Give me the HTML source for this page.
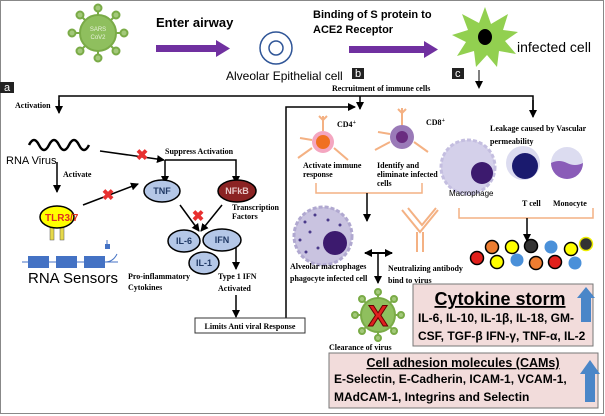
<!DOCTYPE html>
<html><head><meta charset="utf-8"><style>
body{margin:0;background:#fff}
svg{display:block}
.sb{font-family:"Liberation Serif",serif;font-weight:bold;font-size:8px}
.ss{font-family:"Liberation Sans",sans-serif}
</style></head><body>
<svg width="605" height="416" viewBox="0 0 605 416" xmlns="http://www.w3.org/2000/svg">
<defs>
<marker id="ah" markerUnits="userSpaceOnUse" markerWidth="9" markerHeight="9" refX="7" refY="4.5" orient="auto"><path d="M0,0.5 L8,4.5 L0,8.5 Z" fill="#000"/></marker>
<marker id="ahs" markerUnits="userSpaceOnUse" markerWidth="9" markerHeight="9" refX="1" refY="4.5" orient="auto"><path d="M8,0.5 L0,4.5 L8,8.5 Z" fill="#000"/></marker>
</defs>
<rect x="0.5" y="0.5" width="603" height="413" fill="#fff" stroke="#888"/>

<g stroke="#7aab47" stroke-width="2" fill="#a3c97a">
<g>
<line x1="98" y1="33" x2="98" y2="8"/><line x1="98" y1="33" x2="98" y2="58"/><line x1="98" y1="33" x2="72" y2="33"/><line x1="98" y1="33" x2="124" y2="33"/>
<line x1="98" y1="33" x2="80" y2="15"/><line x1="98" y1="33" x2="116" y2="15"/><line x1="98" y1="33" x2="80" y2="51"/><line x1="98" y1="33" x2="116" y2="51"/>
</g>
<circle cx="98" cy="8" r="3.5"/><circle cx="98" cy="58" r="3.5"/><circle cx="72" cy="33" r="3.5"/><circle cx="124" cy="33" r="3.5"/>
<circle cx="80" cy="15" r="3.5"/><circle cx="116" cy="15" r="3.5"/><circle cx="80" cy="51" r="3.5"/><circle cx="116" cy="51" r="3.5"/>
<circle cx="98" cy="33" r="18" fill="#8fbf5e"/>
</g>
<text x="98" y="31" font-size="6" fill="#e8f2dc" text-anchor="middle" class="ss">SARS</text>
<text x="98" y="39" font-size="6" fill="#e8f2dc" text-anchor="middle" class="ss">CoV2</text>

<text x="156" y="27" class="ss" font-size="13" font-weight="bold">Enter airway</text>
<path d="M156,45 H216 V40 L230,48.5 L216,57 V52 H156 Z" fill="#7030a0"/>

<g fill="none" stroke="#2f5597" stroke-width="1.5">
<circle cx="276" cy="48" r="16"/><circle cx="276" cy="48" r="7"/></g>
<text x="226" y="80" class="ss" font-size="12">Alveolar Epithelial cell</text>
<text x="313" y="18" class="ss" font-size="11" font-weight="bold">Binding of S protein to</text>
<text x="313" y="33" class="ss" font-size="11" font-weight="bold">ACE2 Receptor</text>
<path d="M349,46 H424 V41 L438,49.5 L424,58 V53 H349 Z" fill="#7030a0"/>

<path fill="#92d050" d="M485,7 L491,24 L508,14 L503,30 L518,32 L505,41 L516,54 L499,51 L497,67 L487,55 L476,67 L474,51 L457,56 L466,42 L452,35 L468,30 L462,14 L479,23 Z"/>
<ellipse cx="485" cy="37" rx="7" ry="8" fill="#000"/>
<text x="517" y="52" class="ss" font-size="14">infected cell</text>

<g class="ss" font-size="11" fill="#fff">
<rect x="352" y="68" width="12" height="11" fill="#222"/><text x="355" y="77">b</text>
<rect x="452" y="68" width="12" height="11" fill="#222"/><text x="455" y="77">c</text>
<rect x="0" y="82" width="14" height="11" fill="#222"/><text x="4" y="91">a</text>
</g>
<line x1="479" y1="70" x2="479" y2="88" stroke="#000" marker-end="url(#ah)"/>
<text x="332" y="91" class="sb" font-size="10.5">Recruitment of immune cells</text>
<text x="15" y="108" class="sb" font-size="7">Activation</text>

<g stroke="#000" stroke-width="1.5" fill="none">
<polyline points="59,112 59,96 533,96 533,116" />
<line x1="59" y1="100" x2="59" y2="113" marker-end="url(#ah)"/>
<line x1="533" y1="100" x2="533" y2="117" marker-end="url(#ah)"/>
<line x1="360" y1="96" x2="360" y2="109" marker-end="url(#ah)"/>
<polyline points="286,318 286,107 355,107" marker-end="url(#ah)"/>
</g>

<path d="M29,145 q5,-10 10,0 t10,0 t10,0 t10,0 t10,0 t10,0" fill="none" stroke="#000" stroke-width="2.5"/>
<text x="6" y="164" class="ss" font-size="11">RNA Virus</text>
<line x1="57" y1="162" x2="57" y2="192" stroke="#000" stroke-width="1.5" marker-end="url(#ah)"/>
<text x="63" y="177" class="sb">Activate</text>
<rect x="50" y="226" width="4" height="14" fill="#e6d94a" stroke="#555" stroke-width=".5"/><rect x="60" y="226" width="4" height="14" fill="#e6d94a" stroke="#555" stroke-width=".5"/>
<ellipse cx="57" cy="217" rx="17" ry="11" fill="#ffff00" stroke="#000" stroke-width="1.5"/>
<text x="45" y="221" class="ss" font-size="10" fill="#e03020" font-weight="bold">TLR3/7</text>
<g>
<line x1="22" y1="262" x2="118" y2="262" stroke="#4472c4"/>
<rect x="28" y="256" width="21" height="12" fill="#4472c4"/><rect x="56" y="256" width="21" height="12" fill="#4472c4"/><rect x="84" y="256" width="21" height="12" fill="#4472c4"/>
<rect x="105" y="244" width="5" height="5" fill="#4472c4"/>
<path d="M105,262 q8,0 12,-8 M107,249 V240" stroke="#4472c4" fill="none"/>
</g>
<text x="28" y="283" class="ss" font-size="15">RNA Sensors</text>

<g stroke="#000" stroke-width="1.5" fill="none">
<line x1="100" y1="151" x2="164" y2="160" marker-end="url(#ah)"/>
<polyline points="165,160 236,160 236,183" marker-end="url(#ah)"/>
<line x1="165" y1="160" x2="165" y2="183" marker-end="url(#ah)"/>
<line x1="83" y1="205" x2="138" y2="184" marker-end="url(#ah)"/>
<line x1="180" y1="205" x2="199" y2="231" marker-end="url(#ah)"/>
<line x1="222" y1="205" x2="201" y2="231" marker-end="url(#ah)"/>
<polyline points="236,246 236,269" marker-end="url(#ah)"/>
<line x1="236" y1="295" x2="236" y2="317" marker-end="url(#ah)"/>
</g>
<g fill="#e83030" class="ss" font-size="15" font-weight="bold" text-anchor="middle">
<text x="142" y="160">✖</text>
<text x="108" y="200">✖</text>
<text x="198" y="221">✖</text>
</g>
<text x="165" y="154" class="sb">Suppress Activation</text>
<g stroke="#000" stroke-width="1.5">
<ellipse cx="162" cy="191" rx="18" ry="11" fill="#b4c7e7"/>
<ellipse cx="237" cy="191" rx="19" ry="11" fill="#8b2323"/>
<ellipse cx="184" cy="241" rx="16" ry="11" fill="#b4c7e7"/>
<ellipse cx="222" cy="240" rx="19" ry="11" fill="#b4c7e7"/>
<ellipse cx="204" cy="263" rx="15" ry="11" fill="#b4c7e7"/>
</g>
<g class="ss" font-size="9" text-anchor="middle" fill="#1f3864" font-weight="bold">
<text x="162" y="194">TNF</text><text x="237" y="194" fill="#e8c8c8">NFkB</text>
<text x="184" y="244">IL-6</text><text x="222" y="243">IFN</text><text x="204" y="266">IL-1</text>
</g>
<text x="232" y="210" class="sb">Transcription</text><text x="232" y="219" class="sb">Factors</text>
<text x="128" y="279" class="sb" font-size="8.5">Pro-inflammatory</text><text x="128" y="290" class="sb" font-size="8.5">Cytokines</text>
<text x="218" y="279" class="sb" font-size="8.5">Type 1 IFN</text><text x="218" y="291" class="sb" font-size="8.5">Activated</text>
<rect x="195" y="318" width="110" height="15" fill="#fff" stroke="#333"/>
<text x="250" y="329" class="sb" text-anchor="middle">Limits Anti viral Response</text>

<g stroke="#f4b183" stroke-width="2" fill="none">
<path d="M323,131 V116 M323,120 l-4,-4 M323,120 l4,-4 M312,148 l-14,10 M334,148 l14,12 M312,140 l-12,-2"/>
<circle cx="323" cy="142" r="11" fill="#f4a6c0" stroke="none"/><circle cx="323" cy="142" r="7" fill="#f07020" stroke="none"/></g>
<text x="337" y="127" class="sb">CD4<tspan font-size="6" dy="-3">+</tspan></text>
<g stroke="#f4b183" stroke-width="2" fill="none">
<path d="M402,125 V108 M402,113 l-4,-4 M402,113 l4,-4 M390,142 l-15,8 M414,142 l14,10 M390,134 l-12,-2"/>
<circle cx="402" cy="137" r="12" fill="#9a7ab8" stroke="none"/><circle cx="402" cy="137" r="6" fill="#6a2c80" stroke="none"/></g>
<text x="426" y="125" class="sb">CD8<tspan font-size="6" dy="-3">+</tspan></text>
<text x="303" y="168" class="sb">Activate immune</text><text x="303" y="177" class="sb">response</text>
<text x="377" y="168" class="sb">Identify and</text><text x="377" y="177" class="sb">eliminate infected</text><text x="377" y="186" class="sb">cells</text>
<polyline points="316,183 316,193 422,193 422,183" fill="none" stroke="#f4b183" stroke-width="1.5"/>
<line x1="367" y1="193" x2="367" y2="221" stroke="#000" stroke-width="1.5" marker-end="url(#ah)"/>
<g>
<circle cx="323" cy="236" r="29" fill="#c9c3e0" stroke="#b0a8d0" stroke-dasharray="4 2" stroke-width="3"/>
<circle cx="335" cy="243" r="12" fill="#3c1a6e"/>
<g fill="#4a3a8a"><circle cx="305" cy="222" r="1.5"/><circle cx="315" cy="215" r="1.5"/><circle cx="328" cy="220" r="1.5"/><circle cx="300" cy="240" r="1.5"/><circle cx="310" cy="232" r="1.5"/><circle cx="318" cy="248" r="1.5"/><circle cx="340" cy="225" r="1.5"/><circle cx="306" cy="252" r="1.5"/></g>
</g>
<path d="M402,210 l18,22 l18,-22 M408,208 l14,17 l14,-17 M417,232 V252 M423,232 V252" fill="none" stroke="#f4b183" stroke-width="2"/>
<path d="M365,253 H392" stroke="#000" stroke-width="2" marker-end="url(#ah)" marker-start="url(#ahs)"/>
<line x1="378" y1="253" x2="378" y2="283" stroke="#000" stroke-width="1.5" marker-end="url(#ah)"/>
<text x="290" y="269" class="sb">Alveolar macrophages</text><text x="290" y="281" class="sb">phagocyte infected cell</text>
<text x="388" y="271" class="sb">Neutralizing antibody</text><text x="388" y="283" class="sb">bind to virus</text>
<g stroke="#7aab47" stroke-width="2" fill="#a3c97a">
<path d="M378,292 V338 M355,315 H401 M362,299 L394,331 M394,299 L362,331"/>
<circle cx="378" cy="292" r="3"/><circle cx="378" cy="338" r="3"/><circle cx="355" cy="315" r="3"/><circle cx="401" cy="315" r="3"/>
<circle cx="362" cy="299" r="3"/><circle cx="394" cy="299" r="3"/><circle cx="362" cy="331" r="3"/><circle cx="394" cy="331" r="3"/>
<circle cx="378" cy="315" r="17" fill="#8fbf5e"/></g>
<text x="378" y="326" text-anchor="middle" font-size="30" font-weight="bold" class="ss" fill="#e02020" stroke="#600" stroke-width="1">X</text>
<text x="329" y="350" class="sb" font-size="10">Clearance of virus</text>

<text x="490" y="131" class="sb" font-size="9">Leakage caused by Vascular</text><text x="490" y="144" class="sb" font-size="9">permeability</text>
<g>
<circle cx="468" cy="167" r="27" fill="#d4d0ea" stroke="#c4bee0" stroke-dasharray="4 2" stroke-width="3"/>
<circle cx="482" cy="173" r="11" fill="#3c1a6e"/></g>
<text x="449" y="196" class="ss" font-size="8">Macrophage</text>
<g><circle cx="523" cy="163" r="17" fill="#dcdcf0"/><circle cx="525" cy="166" r="13" fill="#1a1a6e"/></g>
<text x="522" y="206" class="sb">T cell</text>
<g><circle cx="567" cy="163" r="16" fill="#dcdcf0"/><path d="M551,163 q8,-4 16,0 t16,0 a16,16 0 0 1 -32,0 Z" fill="#8a5cb8"/></g>
<text x="553" y="206" class="sb">Monocyte</text>
<polyline points="459,208 459,218 593,218 593,208" fill="none" stroke="#f4b183" stroke-width="1.5"/>
<line x1="527" y1="218" x2="527" y2="241" stroke="#000" stroke-width="1.5" marker-end="url(#ah)"/>
<g stroke="#000" stroke-width="1.5">
<circle cx="492" cy="247" r="6.5" fill="#ed7d31"/><circle cx="512" cy="247" r="6.5" fill="#ffff00"/><circle cx="531" cy="246" r="6.5" fill="#333"/><circle cx="551" cy="247" r="6.5" fill="#4a90d9" stroke="none"/><circle cx="571" cy="249" r="6.5" fill="#ffff00"/><circle cx="586" cy="244" r="6.5" fill="#333" stroke="#ee0"/>
<circle cx="477" cy="258" r="6.5" fill="#e0201c"/><circle cx="497" cy="262" r="6.5" fill="#ffff00"/><circle cx="517" cy="260" r="6.5" fill="#4a90d9" stroke="none"/><circle cx="536" cy="263" r="6.5" fill="#ed7d31"/><circle cx="555" cy="262" r="6.5" fill="#e0201c"/><circle cx="575" cy="263" r="6.5" fill="#4a90d9" stroke="none"/>
</g>
<rect x="413" y="284" width="180" height="62" fill="#f2dcdb" stroke="#777"/>
<text x="500" y="305" text-anchor="middle" class="ss" font-size="18" font-weight="bold" text-decoration="underline">Cytokine storm</text>
<text x="418" y="322" class="ss" font-size="12" font-weight="bold">IL-6, IL-10, IL-1β, IL-18, GM-</text>
<text x="418" y="340" class="ss" font-size="12" font-weight="bold">CSF, TGF-β IFN-γ, TNF-α, IL-2</text>
<path d="M581,322 V298 H577 L586,287 L595,298 H591 V322 Z" fill="#4a86c8"/>
<rect x="329" y="353" width="269" height="55" fill="#f2dcdb" stroke="#777"/>
<text x="463" y="367" text-anchor="middle" class="ss" font-size="12.5" font-weight="bold" text-decoration="underline">Cell adhesion molecules (CAMs)</text>
<text x="334" y="383" class="ss" font-size="12" font-weight="bold">E-Selectin, E-Cadherin, ICAM-1, VCAM-1,</text>
<text x="334" y="401" class="ss" font-size="12" font-weight="bold">MAdCAM-1, Integrins and Selectin</text>
<path d="M585,402 V374 H580 L590,360 L600,374 H595 V402 Z" fill="#4a86c8"/>
</svg>
</body></html>
